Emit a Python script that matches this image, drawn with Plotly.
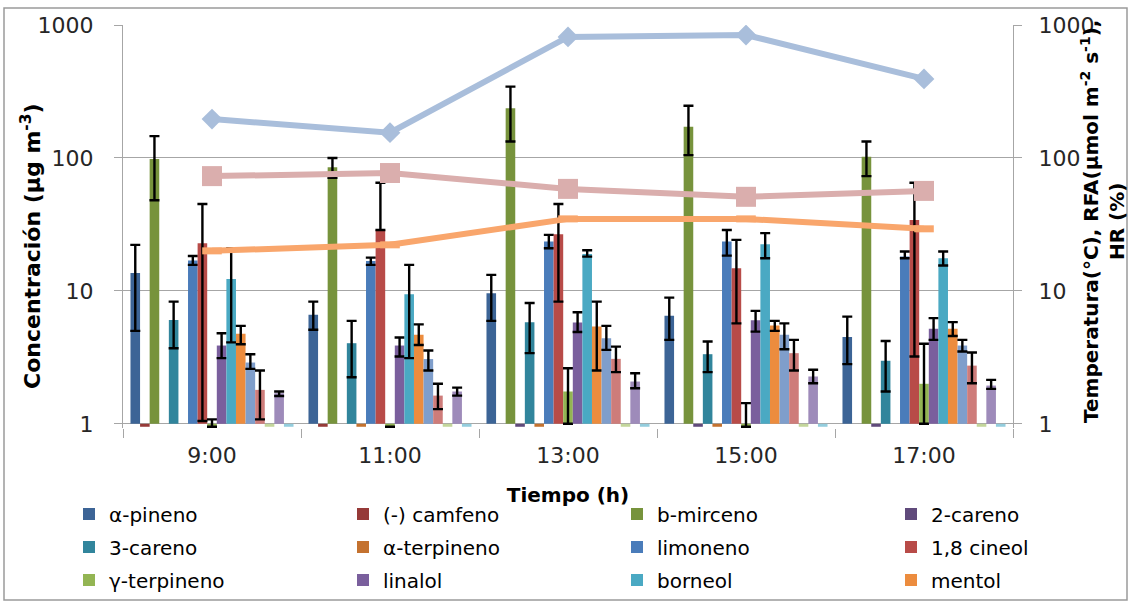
import math
import plotly.graph_objects as go

times = ["9:00", "11:00", "13:00", "15:00", "17:00"]

compounds = ["α-pineno", "(-) camfeno", "b-mirceno", "2-careno", "3-careno",
             "α-terpineno", "limoneno", "1,8 cineol", "γ-terpineno", "linalol",
             "borneol", "mentol",
             "compuesto 13", "compuesto 14", "compuesto 15", "compuesto 16", "compuesto 17"]

colors = ["#3C6496", "#963A38", "#77933C", "#604A7B", "#31859C",
          "#C4722F", "#4A7CBA", "#B84B48", "#93B553", "#7A5F9D",
          "#4AA9C3", "#EC8C3E",
          "#7F9ECB", "#CE7C7A", "#C3D69B", "#9E8BBA", "#93CDDD"]

# concentration means (µg m-3); None = no bar, 0.95 = value below axis minimum
vals = [
    [13.6, 6.6, 9.6, 6.5, 4.5],
    [0.95, 0.95, None, None, None],
    [98, 85, 236, 172, 102],
    [None, None, 0.95, 0.95, 0.95],
    [6.05, 4.04, 5.8, 3.34, 2.98],
    [None, 0.95, 0.95, 0.95, None],
    [16.9, 16.8, 23.5, 23.5, 18.1],
    [22.8, 28.7, 26.7, 14.8, 34.2],
    [0.95, 0.95, 1.75, 0.95, 2.0],
    [3.88, 3.88, 5.78, 6.0, 5.18],
    [12.3, 9.45, 18.9, 22.4, 17.6],
    [4.75, 4.67, 5.39, 5.49, 5.18],
    [2.89, 3.07, 4.41, 4.67, 3.88],
    [1.80, 1.63, 3.08, 3.40, 2.74],
    [0.95, 0.95, 0.95, 0.95, 0.95],
    [1.70, 1.75, 2.08, 2.27, 1.94],
    [0.95, 0.95, 0.95, 0.95, 0.95],
]
# upper / lower ends of the error bars
err_hi = [
    [22.2, 8.3, 13.2, 8.9, 6.4],
    [None] * 5,
    [146, 100, 344, 247, 133],
    [None] * 5,
    [8.3, 5.95, 8.1, 4.16, 4.2],
    [None] * 5,
    [18.3, 17.8, 26.4, 28.7, 19.8],
    [45, 65, 45, 24.2, 65],
    [1.08, None, 2.62, 1.43, 4.0],
    [4.8, 4.46, 6.9, 7.07, 6.24],
    [20.9, 15.7, 20.2, 27.2, 19.8],
    [5.45, 5.6, 8.3, 5.95, 5.82],
    [3.34, 3.56, 5.45, 5.7, 4.28],
    [2.52, 2.0, 3.81, 4.28, 3.44],
    [None] * 5,
    [1.75, 1.87, 2.4, 2.55, 2.14],
    [None] * 5,
]
err_lo = [
    [5.0, 5.1, 5.95, 4.28, 2.81],
    [None] * 5,
    [48, 71, 133, 105, 73],
    [None] * 5,
    [3.7, 2.24, 3.4, 2.45, 1.75],
    [None] * 5,
    [15.7, 15.7, 20.9, 18.4, 17.6],
    [1.05, 28.7, 8.3, 5.7, 3.21],
    [0.95, None, 1.0, 0.95, 1.0],
    [3.12, 3.21, 4.9, 4.94, 4.28],
    [4.1, 3.12, 18.1, 17.6, 15.5],
    [3.97, 3.92, 2.52, 5.0, 4.58],
    [2.59, 2.52, 3.6, 3.64, 3.5],
    [1.08, 1.29, 2.45, 2.52, 2.02],
    [None] * 5,
    [1.62, 1.63, 1.85, 2.02, 1.83],
    [None] * 5,
]

rfa = [196, 155, 813, 841, 393]
hr = [73, 77, 58.5, 51, 56.5]
temp = [20, 22.2, 34.8, 34.8, 29.3]

# ---------------------------------------------------------------
W, H = 1130, 603
L, R, T, B = 123, 117, 25, 175
PW, PH = W - L - R, H - T - B
BASE = 1.0
ymin = math.log10(0.93)


def pxx(p):
    return (p - L) / PW


def pxy(p):
    return (H - B - p) / PH


fig = go.Figure()

for i, name in enumerate(compounds):
    v = vals[i]
    size = [None if a is None else a - BASE for a in v]
    plus = [0 if (a is None or h is None) else h - a for a, h in zip(v, err_hi[i])]
    minus = [0 if (a is None or lo is None) else a - lo for a, lo in zip(v, err_lo[i])]
    has_err = any(h is not None for h in err_hi[i])
    kw = {}
    if i < 12:
        kw["legend"] = ["legend", "legend2", "legend3"][i // 4]
        if i % 4 == 3:
            kw["legendwidth"] = 120
    fig.add_trace(go.Bar(
        x=times, y=size, base=BASE, name=name,
        marker=dict(color=colors[i], line=dict(width=0)),
        showlegend=i < 12,
        error_y=dict(type="data", array=plus, arrayminus=minus, symmetric=False,
                     visible=has_err, color="black", thickness=2.4, width=5),
        **kw,
    ))

fig.add_trace(go.Scatter(x=times, y=rfa, yaxis="y2", mode="lines+markers", name="RFA",
                         line=dict(color="#A9BEDB", width=6),
                         marker=dict(symbol="diamond", size=16, color="#A9BEDB"),
                         showlegend=False))
fig.add_trace(go.Scatter(x=times, y=hr, yaxis="y2", mode="lines+markers", name="HR",
                         line=dict(color="#DAAEAD", width=6),
                         marker=dict(symbol="square", size=20, color="#DAAEAD"),
                         showlegend=False))
fig.add_trace(go.Scatter(x=times, y=temp, yaxis="y2", mode="lines+markers", name="Temperatura",
                         line=dict(color="#F9A66C", width=6),
                         marker=dict(symbol="line-ew", size=14,
                                     line=dict(color="#F9A66C", width=7)),
                         showlegend=False))

tickfont = dict(family="DejaVu Sans", size=22, color="#262626")
grid = "#A6A6A6"
logticks = [1, 10, 100, 1000]

legfont = dict(family="DejaVu Sans", size=20, color="black")
leg_common = dict(orientation="h", entrywidth=229, entrywidthmode="pixels",
                  x=pxx(69), xanchor="left", yanchor="middle",
                  bgcolor="rgba(0,0,0,0)", font=legfont, itemclick=False,
                  tracegroupgap=0)

fig.update_layout(
    width=W, height=H,
    margin=dict(l=L, r=R, t=T, b=B, autoexpand=False),
    paper_bgcolor="white", plot_bgcolor="white",
    barmode="group", bargap=0.084, bargroupgap=0,
    xaxis=dict(type="category", tickson="boundaries", ticks="outside", ticklen=9,
               tickcolor=grid, tickwidth=1.3, showline=False, showgrid=False,
               tickfont=tickfont, ticklabelstandoff=12,
               title=dict(text="<b>Tiempo (h)</b>",
                          font=dict(family="DejaVu Sans", size=20, color="black"),
                          standoff=20)),
    yaxis=dict(type="log", range=[ymin, 3], tickvals=logticks, ticktext=[str(t) for t in logticks],
               showgrid=True, gridcolor=grid, gridwidth=1.3, showline=True, linecolor=grid,
               linewidth=1.3, ticks="outside", ticklen=8, tickcolor=grid, tickfont=tickfont,
               ticklabelstandoff=16, zeroline=False),
    yaxis2=dict(type="log", range=[ymin, 3], tickvals=logticks, ticktext=[str(t) for t in logticks],
                overlaying="y", side="right", showgrid=False, showline=True, linecolor=grid,
                linewidth=1.3, ticks="outside", ticklen=8, tickcolor=grid, tickfont=tickfont,
                ticklabelstandoff=12, zeroline=False),
    legend=dict(y=pxy(514), **leg_common),
    legend2=dict(y=pxy(547), **leg_common),
    legend3=dict(y=pxy(580), **leg_common),
    annotations=[
        dict(text="<b>Concentración (µg m<sup>-3</sup>)</b>", textangle=-90,
             xref="paper", yref="paper", x=pxx(31), y=pxy(246),
             xanchor="center", yanchor="middle", showarrow=False,
             font=dict(family="DejaVu Sans", size=22, color="black")),
        dict(text="<b>Temperatura(°C), RFA(µmol m<sup>-2</sup> s<sup>-1</sup>),<br>HR (%)</b>",
             textangle=-90, xref="paper", yref="paper", x=pxx(1103), y=pxy(222),
             xanchor="center", yanchor="middle", showarrow=False,
             font=dict(family="DejaVu Sans", size=20, color="black")),
    ],
    shapes=[dict(type="rect", xref="paper", yref="paper",
                 x0=pxx(4), x1=pxx(1127), y0=pxy(600), y1=pxy(8),
                 line=dict(color="#9A9A9A", width=1.5), layer="below")],
)

fig.write_html("out.html", config={"displayModeBar": False},
               post_script="document.body.style.margin='0';document.body.style.overflow='hidden';")
